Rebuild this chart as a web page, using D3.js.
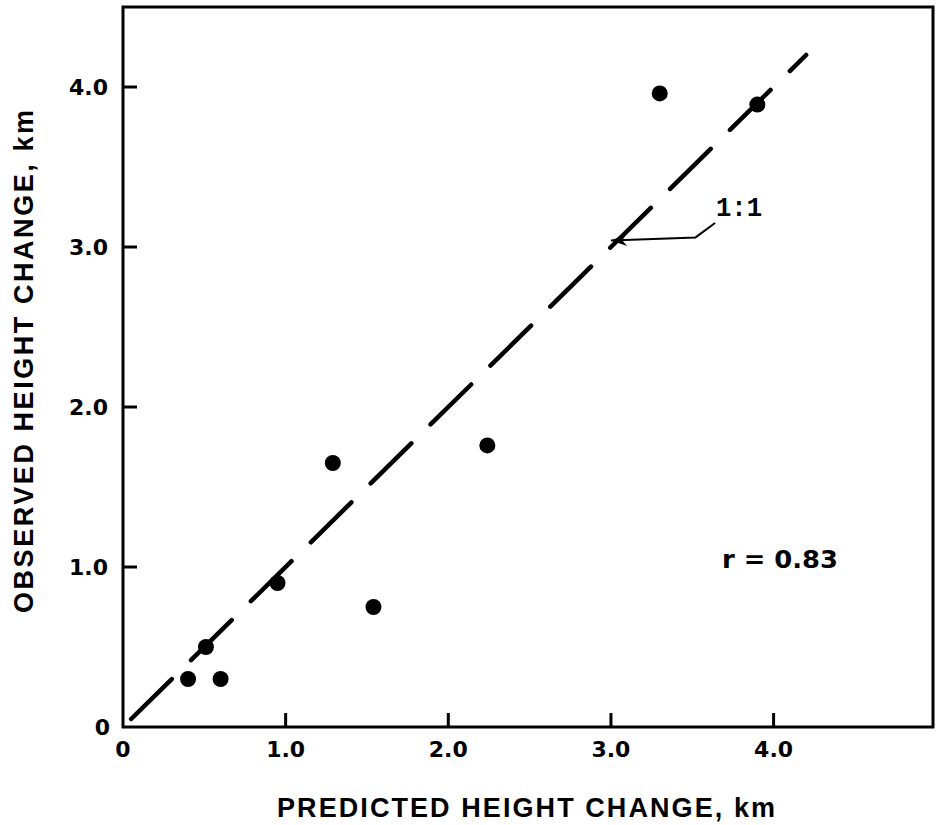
<!DOCTYPE html>
<html>
<head>
<meta charset="utf-8">
<script src="https://cdn.jsdelivr.net/npm/d3@7"></script>
<style>
  body { margin: 0; background: #fff; }
  svg { display: block; }
  text { fill: #000; }
</style>
</head>
<body>
<svg id="chart" width="938" height="825"></svg>
<script>
const svg = d3.select("#chart");

// data
const predicted = [0.40, 0.51, 0.60, 0.95, 1.29, 1.54, 2.24, 3.30, 3.90];
const observed  = [0.30, 0.50, 0.30, 0.90, 1.65, 0.75, 1.76, 3.96, 3.89];
const xTicks = [1, 2, 3, 4];
const yTicks = [1, 2, 3, 4];
const xTickLabels = ["1.0", "2.0", "3.0", "4.0"];
const yTickLabels = ["1.0", "2.0", "3.0", "4.0"];
const oneToOne = [0.05, 4.2];          // extent of the 1:1 line
const leader = [[3.64, 3.15], [3.52, 3.06], [3.0, 3.04]]; // 1:1 pointer

const x = d3.scaleLinear().domain([0, 4.98]).range([123, 933]);
const y = d3.scaleLinear().domain([0, 4.5]).range([727, 7]);

const tickFont = "'DejaVu Sans', sans-serif";
const titleFont = "'Liberation Sans', Arial, sans-serif";

// frame
svg.append("rect")
    .attr("x", x(0)).attr("y", y(4.5))
    .attr("width", x(4.98) - x(0))
    .attr("height", y(0) - y(4.5))
    .attr("fill", "none")
    .attr("stroke", "#000")
    .attr("stroke-width", 3);

// inward ticks
svg.selectAll(".xt").data(xTicks).enter().append("line")
    .attr("x1", d => x(d)).attr("x2", d => x(d))
    .attr("y1", y(0)).attr("y2", y(0) - 14)
    .attr("stroke", "#000").attr("stroke-width", 3);

svg.selectAll(".yt").data(yTicks).enter().append("line")
    .attr("y1", d => y(d)).attr("y2", d => y(d))
    .attr("x1", x(0)).attr("x2", x(0) + 14)
    .attr("stroke", "#000").attr("stroke-width", 3);

// tick labels
svg.selectAll(".xl").data(xTicks).enter().append("text")
    .attr("x", d => x(d)).attr("y", y(0) + 30)
    .attr("text-anchor", "middle")
    .style("font", "bold 22px " + tickFont)
    .text((d, i) => xTickLabels[i]);

svg.append("text")
    .attr("x", x(0)).attr("y", y(0) + 30)
    .attr("text-anchor", "middle")
    .style("font", "bold 22px " + tickFont)
    .text("0");

svg.selectAll(".yl").data(yTicks).enter().append("text")
    .attr("x", x(0) - 15).attr("y", d => y(d) + 8)
    .attr("text-anchor", "end")
    .style("font", "bold 22px " + tickFont)
    .text((d, i) => yTickLabels[i]);

svg.append("text")
    .attr("x", x(0) - 13).attr("y", y(0) + 8)
    .attr("text-anchor", "end")
    .style("font", "bold 22px " + tickFont)
    .text("0");

// axis titles
svg.append("text")
    .attr("x", 277).attr("y", 817)
    .attr("textLength", 498).attr("lengthAdjust", "spacing")
    .style("font", "bold 27px " + titleFont)
    .text("PREDICTED HEIGHT CHANGE, km");

svg.append("text")
    .attr("transform", "translate(33,613) rotate(-90)")
    .attr("textLength", 503).attr("lengthAdjust", "spacing")
    .style("font", "bold 27px " + titleFont)
    .text("OBSERVED HEIGHT CHANGE, km");

// 1:1 dashed line
svg.append("line")
    .attr("x1", x(oneToOne[0])).attr("y1", y(oneToOne[0]))
    .attr("x2", x(oneToOne[1])).attr("y2", y(oneToOne[1]))
    .attr("stroke", "#000")
    .attr("stroke-width", 4.5)
    .attr("stroke-linecap", "round")
    .attr("stroke-dasharray", "57,27");

// points
svg.selectAll(".pt").data(predicted).enter().append("circle")
    .attr("cx", d => x(d))
    .attr("cy", (d, i) => y(observed[i]))
    .attr("r", 8)
    .attr("fill", "#000");

// 1:1 label with leader arrow
const tip = leader[leader.length - 1];
const prev = leader[leader.length - 2];
const ang = Math.atan2(y(prev[1]) - y(tip[1]), x(prev[0]) - x(tip[0]));
const ax = x(tip[0]), ay = y(tip[1]);
const headLen = 16, headW = 6;
const bx = ax + headLen * Math.cos(ang), by = ay + headLen * Math.sin(ang);
const nx = -Math.sin(ang) * headW, ny = Math.cos(ang) * headW;
const nb = 0.7;

svg.append("path")
    .attr("d", d3.line().x(d => x(d[0])).y(d => y(d[1]))(leader))
    .attr("fill", "none")
    .attr("stroke", "#000")
    .attr("stroke-width", 2);

svg.append("path")
    .attr("d", `M${ax},${ay} L${bx + nx},${by + ny} L${ax + (bx - ax) * nb},${ay + (by - ay) * nb} L${bx - nx},${by - ny} Z`)
    .attr("fill", "#000");

svg.append("text")
    .attr("x", 716).attr("y", 216)
    .attr("textLength", 46).attr("lengthAdjust", "spacingAndGlyphs")
    .style("font", "bold 27px 'Liberation Mono', monospace")
    .text("1:1");

svg.append("text")
    .attr("x", 722).attr("y", 568)
    .attr("textLength", 116).attr("lengthAdjust", "spacingAndGlyphs")
    .style("font", "bold 24px " + tickFont)
    .text("r = 0.83");
</script>
</body>
</html>
